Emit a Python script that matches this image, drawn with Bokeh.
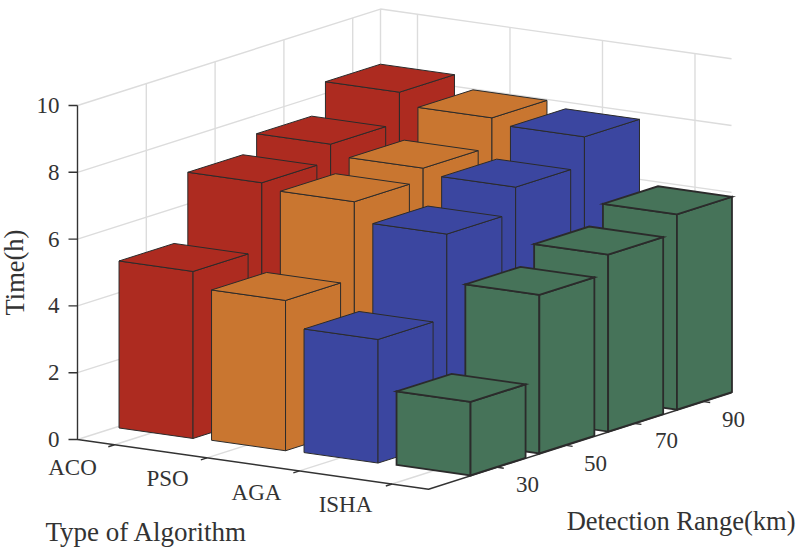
from bokeh.plotting import figure, ColumnDataSource
from bokeh.embed import file_html
from bokeh.resources import INLINE
from bokeh.core.properties import value

algorithms = ["ACO", "PSO", "AGA", "ISHA"]
ranges_km = [30, 50, 70, 90]
time_aco = [5.0, 7.0, 7.5, 8.4]
time_pso = [4.5, 6.8, 7.15, 8.0]
time_aga = [3.7, 6.2, 6.95, 7.8]
time_isha = [2.2, 4.75, 5.3, 5.85]
z_ticks = [0, 2, 4, 6, 8, 10]
colors = ["#AD2B20", "#C97630", "#3B46A0", "#467359"]
edge_widths = [1.0, 1.0, 1.0, 1.8]
series = [time_aco, time_pso, time_aga, time_isha]

# oblique projection of the MATLAB bar3 view, onto page pixels
EX, EY = (92.5, 13.1), (68.8, -21.9)
ZS = 33.4
O = (77.0, 439.0)
A_MAX, B_MAX = 3.795, 4.404
BAR = 0.4


def frame(a, b, z=0.0):
    return (O[0] + a * EX[0] + b * EY[0], O[1] + a * EX[1] + b * EY[1] - z * ZS)


def bar_pt(i, j, da, db, z):
    x, y = frame(i + 0.44 + da, j + 0.95 + db, z)
    return (x, y - 0.8 * i)  # slight perspective of the original view


p = figure(width=800, height=550, x_range=(0, 800), y_range=(550, 0),
           output_backend="svg", toolbar_location=None, min_border=0)
p.axis.visible = False
p.grid.visible = False
p.outline_line_color = None
p.background_fill_color = "white"


def seg(points, color, width):
    p.line([q[0] for q in points], [q[1] for q in points], line_color=color, line_width=width)


GRID = "#dcdcdc"
for z in z_ticks:
    seg([frame(0, 0, z), frame(0, B_MAX, z), frame(A_MAX, B_MAX, z)], GRID, 1.4)
for i in range(4):
    a = i + 0.40
    seg([frame(a, 0), frame(a, B_MAX), frame(a, B_MAX, 10)], GRID, 1.4)
for j in range(4):
    b = j + 1.0
    seg([frame(A_MAX, b), frame(0, b), frame(0, b, 10)], GRID, 1.4)
seg([frame(0, B_MAX), frame(0, B_MAX, 10)], GRID, 1.4)

AXIS = "#333333"
seg([frame(0, 0, 10), frame(0, 0, 0), frame(A_MAX, 0), frame(A_MAX, B_MAX)], AXIS, 1.4)
for z in z_ticks:
    x0, y0 = frame(0, 0, z)
    p.line([x0 - 9, x0], [y0, y0], line_color=AXIS, line_width=1.4)
for i in range(4):
    seg([frame(i + 0.40, 0), frame(i + 0.40, -0.09)], AXIS, 1.4)
for j in range(4):
    seg([frame(A_MAX, j + 1.0), frame(A_MAX + 0.07, j + 1.0)], AXIS, 1.4)

xs, ys, fills, widths = [], [], [], []
for j in reversed(range(4)):
    for i in range(4):
        h = series[i][j]
        faces = [
            [(-BAR, -BAR, 0), (BAR, -BAR, 0), (BAR, -BAR, h), (-BAR, -BAR, h)],
            [(BAR, -BAR, 0), (BAR, BAR, 0), (BAR, BAR, h), (BAR, -BAR, h)],
            [(-BAR, -BAR, h), (BAR, -BAR, h), (BAR, BAR, h), (-BAR, BAR, h)],
        ]
        for f in faces:
            pts = [bar_pt(i, j, *q) for q in f]
            xs.append([q[0] for q in pts])
            ys.append([q[1] for q in pts])
            fills.append(colors[i])
            widths.append(edge_widths[i])
p.patches("xs", "ys", source=ColumnDataSource(dict(xs=xs, ys=ys, c=fills, w=widths)),
          fill_color="c", line_color="#2b2b2b", line_width="w", line_join="miter")

FONT = value("Liberation Serif")
TXT = "#333333"
z_x = [59] * len(z_ticks)
z_y = [frame(0, 0, z)[1] for z in z_ticks]
p.text(z_x, z_y, text=[str(z) for z in z_ticks], text_font=FONT, text_font_size="23px",
       text_color=TXT, text_align="right", text_baseline="middle")
alg_x = [72, 167, 256, 345]
alg_y = [467, 478, 492, 504]
p.text(alg_x, alg_y, text=algorithms, text_font=FONT, text_font_size="23px",
       text_color=TXT, text_align="center", text_baseline="middle")
rng_x = [527, 595, 666, 733]
rng_y = [484, 463, 440, 419]
p.text(rng_x, rng_y, text=[str(v) for v in ranges_km], text_font=FONT, text_font_size="23px",
       text_color=TXT, text_align="center", text_baseline="middle")
p.text([45], [531], text=["Type of Algorithm"], text_font=FONT, text_font_size="27px",
       text_color=TXT, text_align="left", text_baseline="middle")
p.text([795], [520], text=["Detection Range(km)"], text_font=FONT, text_font_size="26.5px",
       text_color=TXT, text_align="right", text_baseline="middle")
p.text([14], [272], text=["Time(h)"], angle=[1.5708], text_font=FONT, text_font_size="26.5px",
       text_color=TXT, text_align="center", text_baseline="middle")

open("out.html", "w").write(file_html(p, INLINE))
